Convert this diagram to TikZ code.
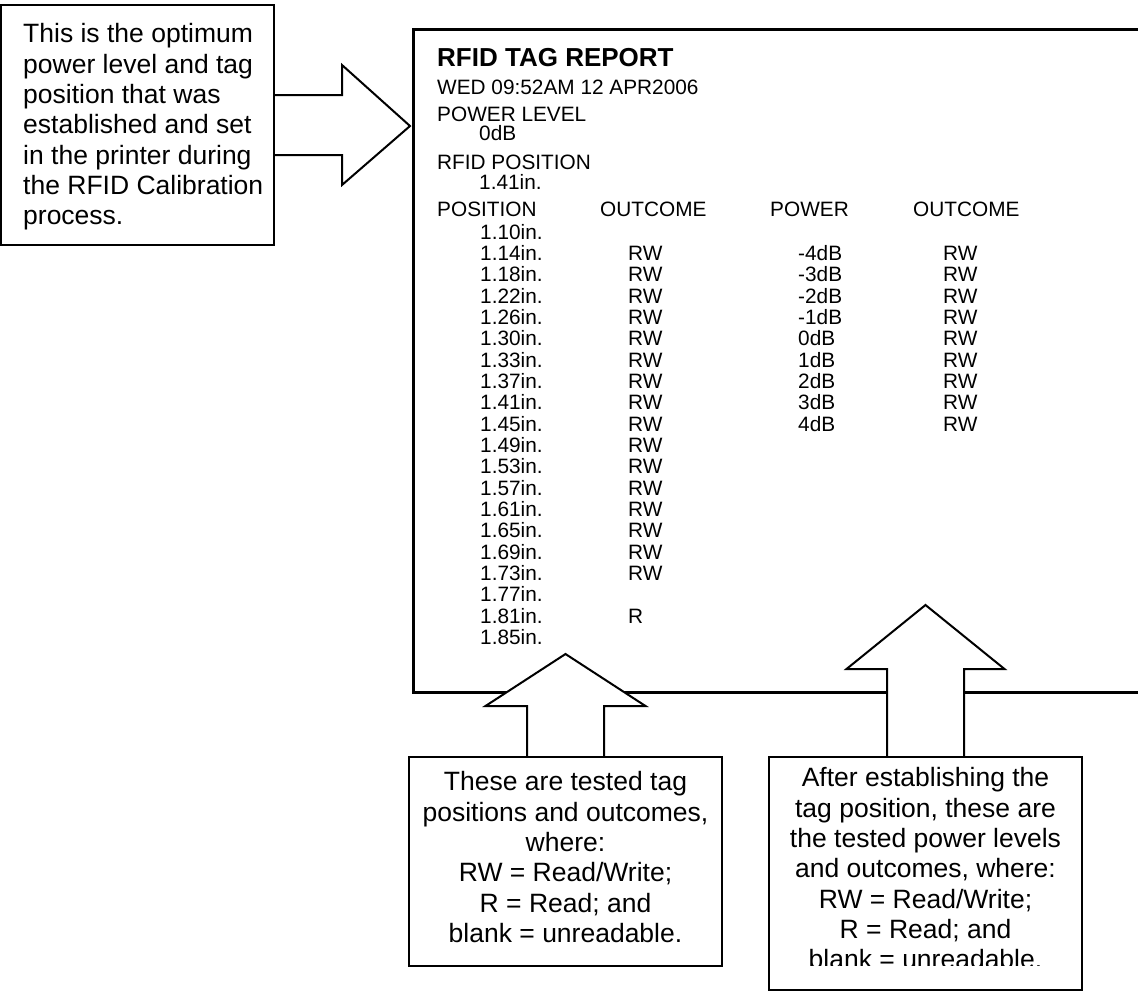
\documentclass[tikz,border=0pt]{standalone}
\usepackage{fontspec}
\setmainfont{Liberation Sans}
\usepackage{tikz}
\usetikzlibrary{calc}

\begin{document}
\begin{tikzpicture}[x=1pt, y=-1pt,
    report/.style={font=\fontsize{20.8}{24}\selectfont, anchor=base west, inner sep=0pt},
    notebox/.style={draw, line width=2.2pt, fill=white, inner sep=0pt},
    notetext/.style={font=\fontsize{26.5}{30.3}\selectfont, inner sep=0pt, anchor=north},
    blockarrow/.style={draw, line width=2pt, fill=white, line join=miter}]
    % Sizes
    \pgfmathsetmacro{\rowpitch}{21.35}
    \useasboundingbox (0,0) rectangle (1138,994);

    % report frame, open on the right
    \coordinate (frametop) at (1138,29);
    \coordinate (framebot) at (1138,692);
    \draw[line width=3pt, line join=miter] (frametop) -- (413,29) -- (413,692) -- (framebot);

    % report header
    \node[report, font=\bfseries\fontsize{26}{30}\selectfont] (title) at (437,66) {RFID TAG REPORT};
    \node[report] (date) at (437,94) {WED 09:52AM 12 APR2006};
    \node[report] (plevel) at (437,121) {POWER LEVEL};
    \node[report] (plevelval) at (479,140) {0dB};
    \node[report] (rpos) at (437,169) {RFID POSITION};
    \node[report] (rposval) at (479,189) {1.41in.};
    \node[report] (hpos) at (437,216) {POSITION};
    \node[report] (hout) at (600,216) {OUTCOME};
    \node[report] (hpow) at (770,216) {POWER};
    \node[report] (hout2) at (913,216) {OUTCOME};

    % tested positions and outcomes
    \foreach \pos [count=\i from 0] in {1.10,1.14,1.18,1.22,1.26,1.30,1.33,1.37,1.41,1.45,
        1.49,1.53,1.57,1.61,1.65,1.69,1.73,1.77,1.81,1.85}{
      \node[report] (pos\i) at (480,239+\i*\rowpitch) {\pos in.};
    }
    \foreach \i in {1,...,16}{
      \node[report] (res\i) at (628,239+\i*\rowpitch) {RW};
    }
    \node[report] (res18) at (628,239+18*\rowpitch) {R};

    % tested power levels and outcomes
    \foreach \pw [count=\i] in {-4,-3,-2,-1,0,1,2,3,4}{
      \node[report] (pow\i) at (798,239+\i*\rowpitch) {\pw dB};
      \node[report] (pres\i) at (943,239+\i*\rowpitch) {RW};
    }

    % callout boxes
    \node[notebox, minimum width=273, minimum height=240] (calnote) at (137.5,125) {};
    \node[notebox, minimum width=313, minimum height=209] (posnote) at (565.5,861.5) {};
    \node[notebox, minimum width=313, minimum height=233] (pownote) at (925.5,873.5) {};

    % block arrows
    \coordinate (caltip) at (410,126);
    \coordinate (postip) at (565.5,654);
    \coordinate (powtip) at (925.5,605);
    \draw[blockarrow] ($(calnote.east)+(0,-30)$) -| ($(caltip)+(-68,-61)$) -- (caltip)
      -- ($(caltip)+(-68,59)$) |- ($(calnote.east)+(0,30)$);
    \draw[blockarrow] ($(posnote.north)+(-38.5,0)$) |- ($(postip)+(-80,52)$) -- (postip)
      -- ($(postip)+(80,52)$) -| ($(posnote.north)+(38.5,0)$);
    \draw[blockarrow] ($(pownote.north)+(-38.5,0)$) |- ($(powtip)+(-79,64)$) -- (powtip)
      -- ($(powtip)+(79,64)$) -| ($(pownote.north)+(38.5,0)$);

    % labels
    \node[notetext, anchor=north west, align=left] (caltext) at (23,23.5)
      {This is the optimum\\power level and tag\\position that was\\established and set\\in the printer during\\the RFID Calibration\\process.};
    \node[notetext, align=center] (postext) at (565.5,771.5)
      {These are tested tag\\positions and outcomes,\\where:\\RW = Read/Write;\\R = Read; and\\blank = unreadable.};
    \begin{scope}
      \clip (769,757) rectangle (1082,965.5);
      \node[notetext, align=center] (powtext) at (925.5,767.5)
        {After establishing the\\tag position, these are\\the tested power levels\\and outcomes, where:\\RW = Read/Write;\\R = Read; and\\blank = unreadable.};
    \end{scope}
\end{tikzpicture}
\end{document}
